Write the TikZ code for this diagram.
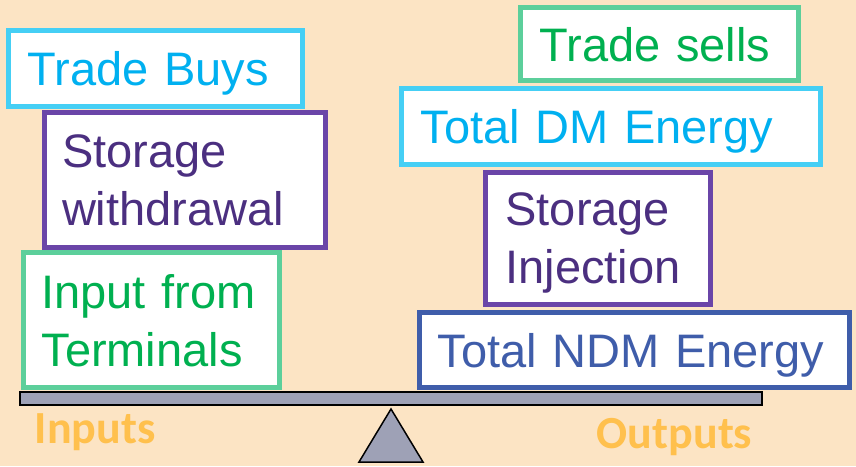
\documentclass[tikz,border=0pt]{standalone}
\usepackage{fontspec}
\setmainfont{Liberation Sans}
\newfontfamily\labelfont{Carlito}
\usepackage{tikz}
\usetikzlibrary{
  arrows.meta,
  positioning,
  calc
}
\definecolor{bgpeach}{HTML}{FCE4C4}
\definecolor{buyline}{HTML}{45CFF5}
\definecolor{buytext}{HTML}{00B0F0}
\definecolor{storline}{HTML}{6A45A8}
\definecolor{stortext}{HTML}{4B2F80}
\definecolor{termline}{HTML}{5CCF9B}
\definecolor{termtext}{HTML}{00B050}
\definecolor{ndmline}{HTML}{3F5DAA}
\definecolor{beamgray}{HTML}{9EA1B6}
\definecolor{sidelabel}{HTML}{FFC04D}

\begin{document}
\begin{tikzpicture}[
  x=1pt, y=-1pt,
  every node/.style={anchor=north west, line width=5pt, fill=white,
                     align=left, inner ysep=0pt, text depth=0pt,
                     font=\fontsize{47}{58}\selectfont},
  twolines/.style={text depth=58pt},
  cyanbox/.style={draw=buyline, text=buytext},
  purplebox/.style={draw=storline, text=stortext},
  greenbox/.style={draw=termline, text=termtext},
  bluebox/.style={draw=ndmline, text=ndmline},
  sidetext/.style={anchor=base west, fill=none, draw=none, text=sidelabel,
                   font=\labelfont\bfseries\fontsize{46}{50}\selectfont}
]
  % background and frame
  \fill[bgpeach] (0,0) rectangle (856,466);
  \useasboundingbox (0,0) rectangle (856,466);

  % Inputs side of the scale
  \node[cyanbox, inner xsep=19pt, text width=256pt, minimum height=76pt]
    at (6,28) (buys) {Trade Buys};
  \node[purplebox, twolines, inner xsep=17.5pt, text width=246pt, minimum height=135pt]
    at (42,110) (withdraw) {Storage\\withdrawal};
  \node[greenbox, twolines, inner xsep=18pt, text width=220pt, minimum height=135pt]
    at (21,250) (terminals) {Input from\\Terminals};

  % Outputs side of the scale
  \node[greenbox, inner xsep=19pt, text width=240pt, minimum height=73pt]
    at (518,5) (sells) {Trade sells};
  \node[cyanbox, inner xsep=19pt, text width=381pt, minimum height=76pt]
    at (399,86) (dmtotal) {Total DM Energy};
  \node[purplebox, twolines, inner xsep=20pt, text width=185pt, minimum height=132pt]
    at (483,170) (injection) {Storage\\Injection};
  \node[bluebox, inner xsep=18pt, text width=394pt, minimum height=75pt]
    at (417,310) (ndmtotal) {Total NDM Energy};

  % beam and pivot
  \draw[fill=beamgray, line width=1.5pt] (20,392) rectangle (762,405);
  \draw[fill=beamgray, line width=1.5pt, line join=miter]
    (391,409) -- (423,462) -- (359,462) -- cycle;

  % side labels
  \node[sidetext] at (29,443) (inputs) {Inputs};
  \node[sidetext] at (591,448) (outputs) {Outputs};
\end{tikzpicture}
\end{document}
